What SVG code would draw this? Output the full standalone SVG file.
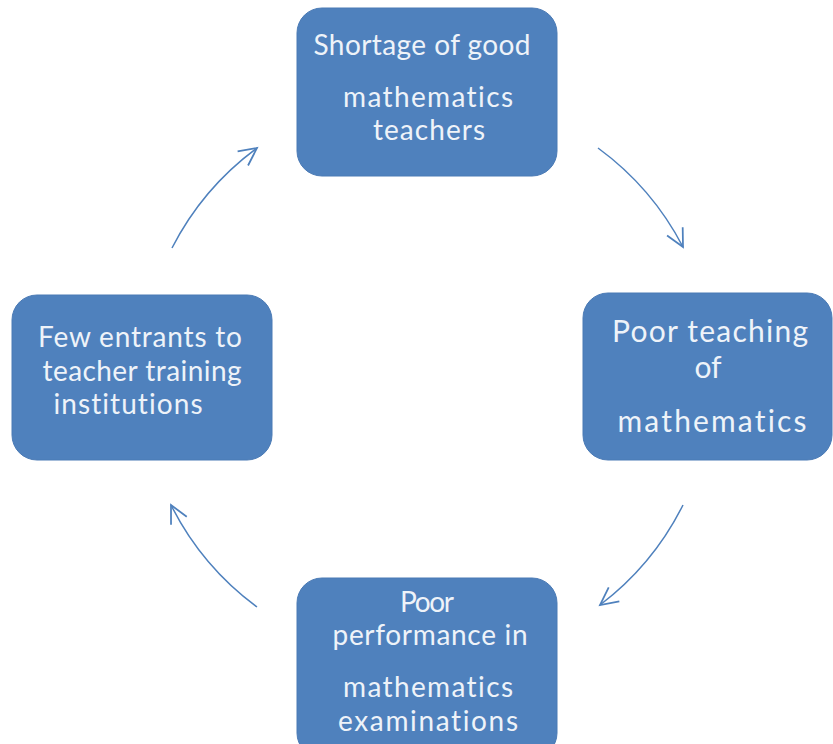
<svg xmlns="http://www.w3.org/2000/svg" width="833" height="744" viewBox="0 0 833 744">
<style>
.box{fill:#4F81BD;stroke:#4A7AB5;stroke-width:1}
.t{font-family:Lato,"Liberation Sans",sans-serif;fill:#EEF3F9;text-anchor:middle;font-variant-ligatures:none}
.s1{font-size:28px}
.s2{font-size:30px}
.arc{fill:none;stroke:#4F81BD;stroke-width:1.5}
</style>
<defs>
<marker id="ah" markerUnits="userSpaceOnUse" markerWidth="22" markerHeight="22" viewBox="0 0 20 20" refX="18" refY="10" orient="auto">
<path d="M2,2 L18,10 L2,18" fill="none" stroke="#4F81BD" stroke-width="1.6"/>
</marker>
</defs>
<rect width="833" height="744" fill="#FFFFFF"/>
<g id="connectors">
<path class="arc" d="M598,148 A286,286 0 0,1 683,247" marker-end="url(#ah)"/>
<path class="arc" d="M683,505 A286,286 0 0,1 600,605" marker-end="url(#ah)"/>
<path class="arc" d="M257,607 A286,286 0 0,1 171,505" marker-end="url(#ah)"/>
<path class="arc" d="M172,248 A286,286 0 0,1 257,148" marker-end="url(#ah)"/>
</g>
<g id="node-shortage">
<rect class="box" x="297" y="8" width="260" height="168" rx="25"/>
<text class="t s1" x="422" y="55" textLength="217">Shortage of good</text>
<text class="t s1" x="428" y="107" textLength="170">mathematics</text>
<text class="t s1" x="429" y="140" textLength="112">teachers</text>
</g>
<g id="node-poor-teaching">
<rect class="box" x="583" y="293" width="249" height="167" rx="25"/>
<text class="t s2" x="710" y="342" textLength="196">Poor teaching</text>
<text class="t s2" x="708" y="378">of</text>
<text class="t s2" x="712" y="432" textLength="189">mathematics</text>
</g>
<g id="node-poor-performance">
<rect class="box" x="297" y="578" width="260" height="180" rx="25"/>
<text class="t s1" x="427" y="612" textLength="54">Poor</text>
<text class="t s1" x="430" y="645" textLength="195">performance in</text>
<text class="t s1" x="428" y="697" textLength="170">mathematics</text>
<text class="t s1" x="428" y="731" textLength="180">examinations</text>
</g>
<g id="node-few-entrants">
<rect class="box" x="12" y="295" width="260" height="165" rx="25"/>
<text class="t s1" x="140" y="347" textLength="204">Few entrants to</text>
<text class="t s1" x="142" y="381" textLength="199">teacher training</text>
<text class="t s1" x="128" y="414" textLength="149">institutions</text>
</g>
</svg>
